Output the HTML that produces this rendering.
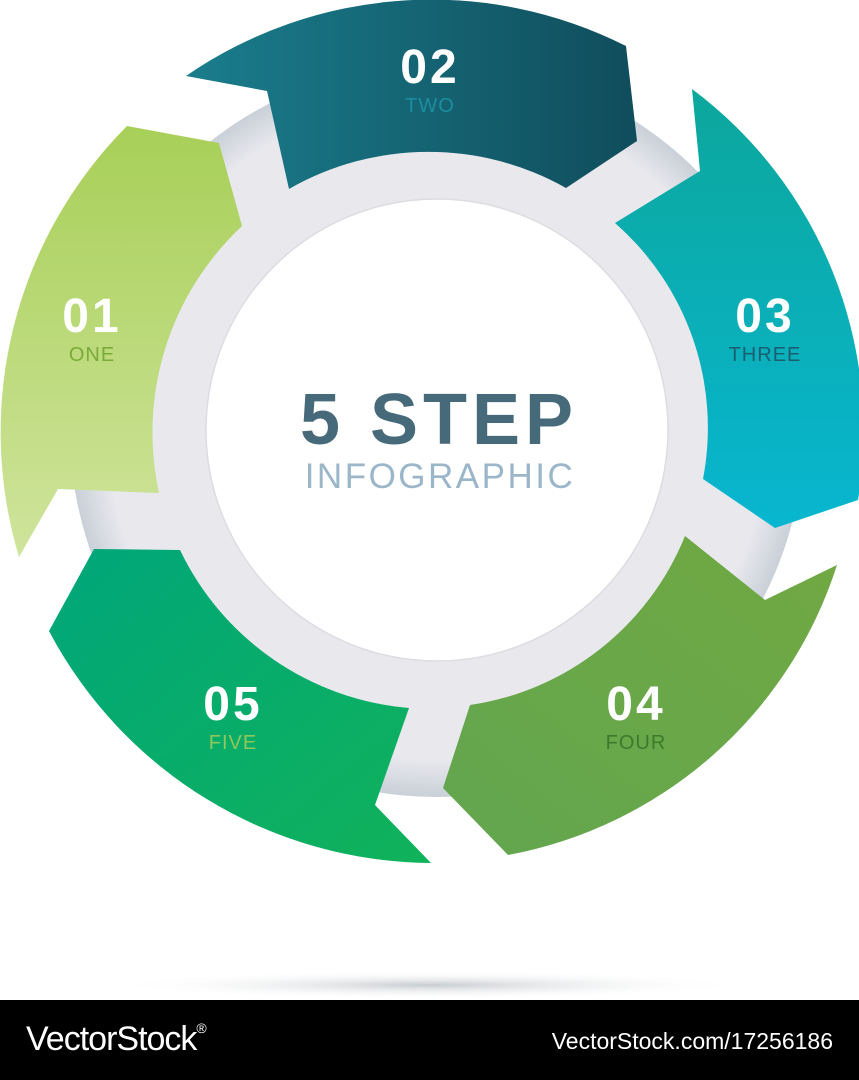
<!DOCTYPE html>
<html><head><meta charset="utf-8"><style>
html,body{margin:0;padding:0;background:#fff;}
body{width:859px;height:1080px;position:relative;overflow:hidden;font-family:"Liberation Sans",sans-serif;}
.bar{position:absolute;left:0;top:1000px;width:859px;height:80px;background:#000;color:#fff;}
</style></head><body>
<svg width="859" height="1000" style="position:absolute;left:0;top:0">
<defs>
<linearGradient id="g1" x1="0" y1="0" x2="0" y2="1"><stop offset="0" stop-color="#a8cf58"/><stop offset="1" stop-color="#cfe49c"/></linearGradient>
<linearGradient id="g2" x1="0" y1="0" x2="1" y2="0"><stop offset="0" stop-color="#1a7d8c"/><stop offset="1" stop-color="#104d5c"/></linearGradient>
<linearGradient id="g3" x1="0" y1="0" x2="0" y2="1"><stop offset="0" stop-color="#0ca79c"/><stop offset="1" stop-color="#08b6d0"/></linearGradient>
<linearGradient id="g4" x1="1" y1="0" x2="0" y2="1"><stop offset="0" stop-color="#71a842"/><stop offset="1" stop-color="#62a64f"/></linearGradient>
<linearGradient id="g5" x1="0" y1="0" x2="1" y2="1"><stop offset="0" stop-color="#00a67a"/><stop offset="1" stop-color="#10b25a"/></linearGradient>
<radialGradient id="ring" cx="0.5" cy="0.5" r="0.5"><stop offset="0.9" stop-color="#e8e8ed"/><stop offset="1" stop-color="#c9d0d8"/></radialGradient>
<radialGradient id="sh" cx="0.5" cy="0.5" r="0.5"><stop offset="0" stop-color="#c8ccd0"/><stop offset="1" stop-color="#ffffff" stop-opacity="0"/></radialGradient>
</defs>
<ellipse cx="430" cy="985" rx="320" ry="14" fill="url(#sh)"/>
<circle cx="437" cy="430" r="367" fill="url(#ring)"/>
<circle cx="437" cy="430" r="231" fill="#fff" stroke="#dcdde2" stroke-width="1.5"/>
<path fill="url(#g1)" d="M127,126 L219,143 L242,226 A283,283 0 0 0 159,493 L58,489 L19,557 A434,434 0 0 1 127,126 Z"/>
<path fill="url(#g2)" d="M186,76 A432,432 0 0 1 626,46 L637,141 L566,188 A280,280 0 0 0 289,189 L267,91 Z"/>
<path fill="url(#g3)" d="M692,89 A427,427 0 0 1 858,500 L775,528 L703,479 A272,272 0 0 0 615,223 L700,171 Z"/>
<path fill="url(#g4)" d="M685,536 L765,600 L837,565 A427,427 0 0 1 508,855 L443,788 L470,705 A275,275 0 0 0 685,536 Z"/>
<path fill="url(#g5)" d="M94,549 L180,550 A280,280 0 0 0 409,708 L375,805 L431,863 A435,435 0 0 1 49,631 Z"/>
<g font-family="Liberation Sans, sans-serif" text-anchor="middle">
<text x="430" y="83" font-size="48" font-weight="bold" fill="#fff" letter-spacing="3">02</text>
<text x="430" y="112" font-size="20" fill="#1a8e9e" letter-spacing="1">TWO</text>
<text x="92" y="332" font-size="48" font-weight="bold" fill="#fff" letter-spacing="3">01</text>
<text x="92" y="361" font-size="20" fill="#7aab3a" letter-spacing="1">ONE</text>
<text x="765" y="332" font-size="48" font-weight="bold" fill="#fff" letter-spacing="3">03</text>
<text x="765" y="361" font-size="20" fill="#1a5e70" letter-spacing="1">THREE</text>
<text x="636" y="720" font-size="48" font-weight="bold" fill="#fff" letter-spacing="3">04</text>
<text x="636" y="749" font-size="20" fill="#3c7a2c" letter-spacing="1">FOUR</text>
<text x="233" y="720" font-size="48" font-weight="bold" fill="#fff" letter-spacing="3">05</text>
<text x="233" y="749" font-size="20" fill="#8fc85a" letter-spacing="1">FIVE</text>
<text x="439" y="444" font-size="72" font-weight="bold" fill="#476a7b" letter-spacing="5">5 STEP</text>
<text x="440" y="488" font-size="35" fill="#9bb6c9" letter-spacing="2.5">INFOGRAPHIC</text>
</g>
</svg>
<div class="bar">
<div style="position:absolute;left:26px;top:20px;font-size:34px;letter-spacing:-1px;">VectorStock<span style="font-size:14px;vertical-align:top">®</span></div>
<div style="position:absolute;right:26px;top:28px;font-size:23px;">VectorStock.com/17256186</div>
</div>
</body></html>
